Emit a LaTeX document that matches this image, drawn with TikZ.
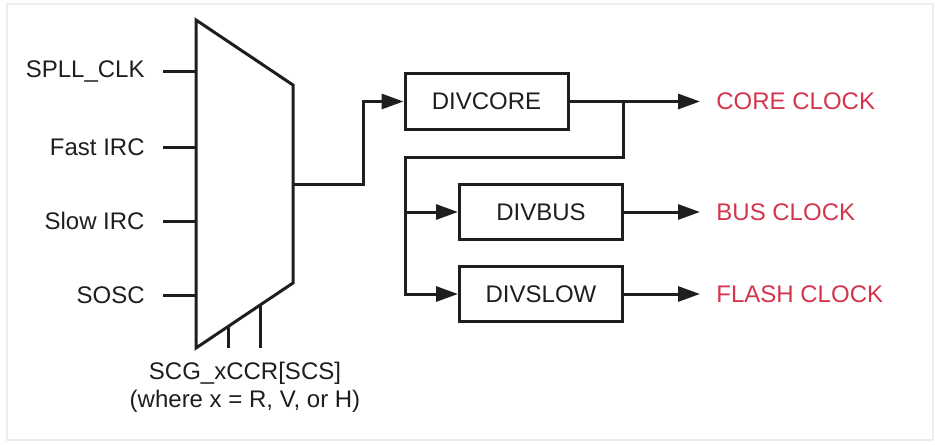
\documentclass[tikz,border=0pt]{standalone}
\usepackage{fontspec}
\setmainfont{Liberation Sans}
\usepackage{tikz}
\usetikzlibrary{positioning,arrows.meta}
\definecolor{clkred}{RGB}{212,52,76}
\definecolor{ink}{RGB}{30,30,30}

\begin{document}
\begin{tikzpicture}[
    x=0.5pt, y=-0.5pt,
    font=\fontsize{12}{14}\selectfont,
    wire/.style={draw=ink, line width=1.5pt},
    arrow/.style={wire, -{Triangle[length=11pt, width=7.5pt]}},
    divbox/.style={rectangle, draw=ink, line width=1.5pt, text=ink, minimum width=81.5pt, minimum height=27.5pt, inner sep=0pt},
    srclabel/.style={anchor=east, text=ink, inner sep=0pt},
    clklabel/.style={anchor=west, text=clkred, inner sep=0pt}
]
    \useasboundingbox (0,0) rectangle (935,444);
    \draw[black!7, line width=1pt] (7,4) rectangle (933,440);

    % clock selector mux
    \coordinate (mux-tl) at (196,20);
    \coordinate (mux-tr) at (293,85);
    \coordinate (mux-br) at (293,283);
    \coordinate (mux-bl) at (196,348);
    \draw[wire, line join=miter] (mux-tl) -- (mux-tr) -- (mux-br) -- (mux-bl) -- cycle;

    % clock sources
    \node [srclabel] (spll) at (145,72) {SPLL\_CLK};
    \node [srclabel] (firc) at (145,147) {Fast IRC};
    \node [srclabel] (sirc) at (145,221) {Slow IRC};
    \node [srclabel] (sosc) at (145,295) {SOSC};
    \foreach \src/\y in {spll/72, firc/147, sirc/221, sosc/295}
        \draw[wire] (163,\y) -- (196,\y);

    % select lines
    \draw[wire] (228,327) -- (228,348);
    \draw[wire] (260,305) -- (260,348);
    \node [align=center, text=ink] (scs) at (245,387) {SCG\_xCCR[SCS]\\(where x = R, V, or H)};

    % dividers
    \node [divbox] (divcore) at (486.5,101.5) {DIVCORE};
    \node [divbox] (divbus) at (541,212) {DIVBUS};
    \node [divbox] (divslow) at (541,294) {DIVSLOW};

    % connections
    \coordinate (muxout) at (293,184);
    \coordinate (split) at (623,101.5);
    \coordinate (ret) at (405,157);
    \coordinate (coreout) at (700,101.5);
    \coordinate (busout) at (700,212);
    \coordinate (slowout) at (700,294);
    \draw [arrow] (muxout) -- (363,184) |- (divcore.west);
    \draw [arrow] (divcore.east) -- (coreout);
    \draw [arrow] (split) |- (ret) |- (divslow.west);
    \draw [arrow] (ret |- divbus.west) -- (divbus.west);
    \draw [arrow] (divbus.east) -- (busout);
    \draw [arrow] (divslow.east) -- (slowout);

    % outputs
    \node [clklabel, right=8pt of coreout] (coreclk) {CORE CLOCK};
    \node [clklabel, right=8pt of busout] (busclk) {BUS CLOCK};
    \node [clklabel, right=8pt of slowout] (flashclk) {FLASH CLOCK};
\end{tikzpicture}
\end{document}
